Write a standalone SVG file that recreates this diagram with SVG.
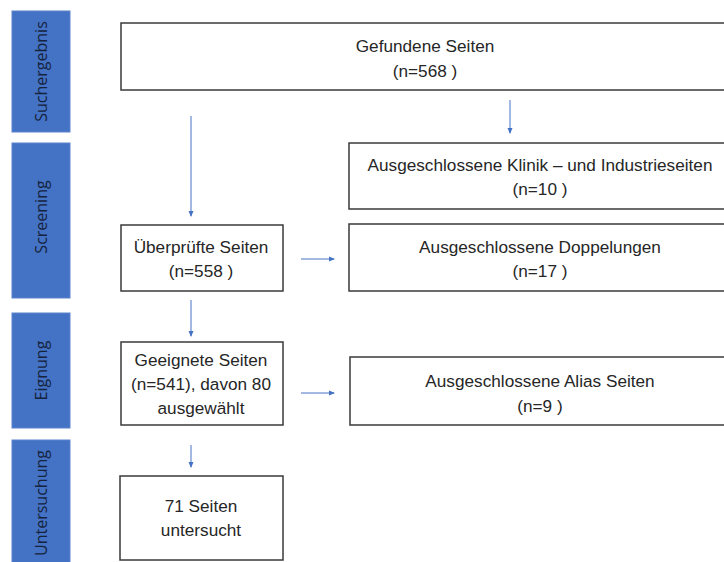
<svg xmlns="http://www.w3.org/2000/svg" width="724" height="562" viewBox="0 0 724 562">
<defs>
<marker id="ah" markerWidth="6" markerHeight="6" refX="5" refY="3" orient="auto" markerUnits="userSpaceOnUse">
<path d="M0,0.5 L6,3 L0,5.5 Z" fill="#4472C4"/>
</marker>
</defs>
<style>
.side{fill:#4472C4;stroke:#5B84CC;stroke-width:1}
.stxt{font-family:"Open Sans","Noto Sans",sans-serif;font-size:16px;fill:#15233d;text-anchor:middle}
.box{fill:#ffffff;stroke:#3a3a3a;stroke-width:1.5}
.txt{font-family:"Liberation Sans",Arial,sans-serif;font-size:17.2px;fill:#262626;text-anchor:middle}
.conn{stroke:#4472C4;stroke-width:1;fill:none;marker-end:url(#ah)}
</style>
<rect width="724" height="562" fill="#ffffff"/>
<g id="phase-suchergebnis"><rect class="side" x="12" y="11" width="58" height="121"/><text class="stxt" transform="translate(47,71.5) rotate(-90)">Suchergebnis</text></g>
<g id="phase-screening"><rect class="side" x="12" y="143" width="58" height="155"/><text class="stxt" transform="translate(47,217) rotate(-90)">Screening</text></g>
<g id="phase-eignung"><rect class="side" x="12" y="313" width="58" height="115"/><text class="stxt" transform="translate(47,370.5) rotate(-90)">Eignung</text></g>
<g id="phase-untersuchung"><rect class="side" x="12" y="440" width="58" height="130"/><text class="stxt" transform="translate(47,503) rotate(-90)">Untersuchung</text></g>

<g id="gefunden"><rect class="box" x="121" y="23" width="610" height="67"/><text class="txt" x="425" y="52">Gefundene Seiten</text><text class="txt" x="425" y="77">(n=568 )</text></g>
<g id="klinik"><rect class="box" x="349" y="143" width="382" height="66"/><text class="txt" x="540" y="171">Ausgeschlossene Klinik – und Industrieseiten</text><text class="txt" x="540" y="195">(n=10 )</text></g>
<g id="ueberprueft"><rect class="box" x="121" y="225" width="162" height="66"/><text class="txt" x="201" y="253">Überprüfte Seiten</text><text class="txt" x="201" y="277">(n=558 )</text></g>
<g id="doppelungen"><rect class="box" x="349" y="224" width="382" height="67"/><text class="txt" x="540" y="253">Ausgeschlossene Doppelungen</text><text class="txt" x="540" y="277">(n=17 )</text></g>
<g id="geeignet"><rect class="box" x="121" y="342" width="162" height="83"/><text class="txt" x="201" y="366">Geeignete Seiten</text><text class="txt" x="201" y="390">(n=541), davon 80</text><text class="txt" x="201" y="414">ausgewählt</text></g>
<g id="alias"><rect class="box" x="350" y="357" width="381" height="68"/><text class="txt" x="540" y="387">Ausgeschlossene Alias Seiten</text><text class="txt" x="540" y="412">(n=9 )</text></g>
<g id="untersucht"><rect class="box" x="120" y="476" width="163" height="84"/><text class="txt" x="201" y="512">71 Seiten</text><text class="txt" x="201" y="536">untersucht</text></g>

<g id="connectors">
<line class="conn" x1="191" y1="116" x2="191" y2="216"/>
<line class="conn" x1="510" y1="100" x2="510" y2="133"/>
<line class="conn" x1="301" y1="259" x2="334" y2="259"/>
<line class="conn" x1="191" y1="300" x2="191" y2="336"/>
<line class="conn" x1="301" y1="393" x2="334" y2="393"/>
<line class="conn" x1="191" y1="445" x2="191" y2="467"/>
</g>
</svg>
